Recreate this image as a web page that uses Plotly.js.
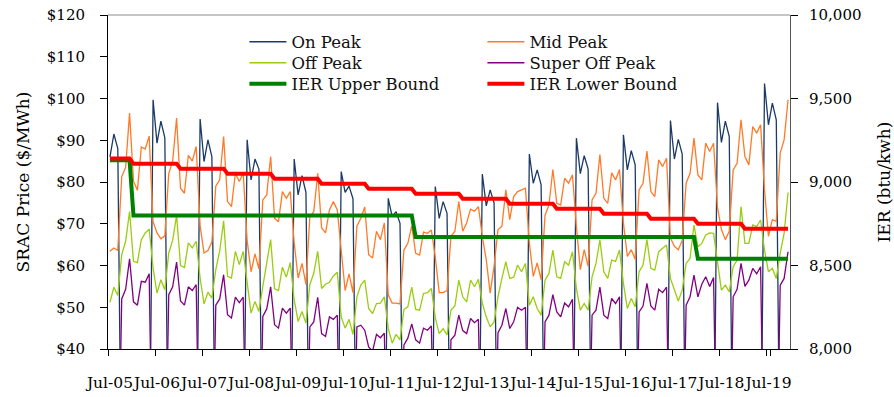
<!DOCTYPE html>
<html><head><meta charset="utf-8">
<script src="https://cdn.plot.ly/plotly-3.0.1.min.js"></script>
<style>html,body{margin:0;padding:0;background:#fff}#chart{width:894px;height:397px}</style>
</head><body><div id="chart"></div>
<script>
// Month categories Jul-05 ... Dec-19
const monthNames = ['Jul','Aug','Sep','Oct','Nov','Dec','Jan','Feb','Mar','Apr','May','Jun'];
const months = [];
for (let i = 0; i < 174; i++) {
  const yr = 5 + Math.floor((i + 6) / 12);
  months.push(monthNames[i % 12] + '-' + String(yr).padStart(2, '0'));
}
const tickLabels = ['Jul-05','Jul-06','Jul-07','Jul-08','Jul-09','Jul-10','Jul-11','Jul-12','Jul-13','Jul-14','Jul-15','Jul-16','Jul-17','Jul-18','Jul-19'];

// rows: Jul..Jun
const onPeak = [
  86,91.5,88,0,0,0,0,0,0,0,0,99.7,
  89.3,94.6,90.6,0,0,0,0,0,0,0,0,95.1,
  84.9,90.1,86.1,0,0,0,0,0,0,0,0,90.1,
  80.5,85.5,83.1,0,0,0,0,0,0,0,0,85.5,
  76.9,81.5,77.5,0,0,0,0,0,0,0,0,82.5,
  77.5,79,76,0,0,0,0,0,0,0,0,76.1,
  71.7,72.9,70.1,0,0,0,0,0,0,0,0,78.9,
  71.3,75.3,72.5,0,0,0,0,0,0,0,0,81.9,
  74.3,78.1,75,0,0,0,0,0,0,0,0,86.7,
  79.7,82.9,79.3,0,0,0,0,0,0,0,0,90.5,
  82,86.3,83.1,0,0,0,0,0,0,0,0,91.3,
  82.9,87.5,84.1,0,0,0,0,0,0,0,0,94.7,
  85.5,90.2,86.7,0,0,0,0,0,0,0,0,99,
  89.5,94.6,90.9,0,0,0,0,0,0,0,0,103.6,
  93.7,98.9,94.9,0,0,0
];
const midPeak = [
  63.4,64.2,63.6,81.3,83.5,96.5,80.2,78,88.4,87.9,91,70.5,
  67.8,66.4,67.1,82,85,95.3,78.5,77.3,86.4,85,88.5,69.5,
  63,63.6,65.6,79,80.5,90.9,75.3,74.1,82.1,80.1,82.1,66,
  58.5,62.8,59.2,75.7,76.9,86.1,71.3,70.5,77.7,76.1,77.7,65.5,
  57,60.5,55.5,71.7,72.9,82.1,69,67.8,73.3,75.3,73.3,63,
  54,58,53.5,69.4,71.3,74,62.6,61.8,68.2,66.2,70.2,53,
  51,51,50.8,63.7,65.3,69.5,62.9,62.5,68,67.7,68.5,62,
  53.5,53.5,54,67,68.2,75.3,68.2,70.2,73.5,73,74.1,67,
  61.4,53.4,59.8,68.6,69.4,78.1,71,76.5,77.7,78.1,78.5,65.4,
  57.4,60.6,56.6,72,74.5,83,74.9,74.5,80.9,79.7,81.7,69.4,
  59,63.8,59.8,75.7,77.3,86.6,76.1,74.9,82.2,80.5,83,70.2,
  62.2,63.8,61.5,78.1,79.7,87.4,77.7,76.5,85.3,83.7,85.7,66.6,
  64.6,63.8,66,79.7,82.1,90.5,81.7,80.5,89.3,87.3,89.3,74,
  68.6,66.2,68.2,82.9,84.5,94.9,86.1,84.1,93.3,91.7,93.7,78.1,
  67,71,70.6,86.9,90.1,99.7
];
const offPeak = [
  51.2,54.8,52.8,62.6,65.8,72.9,61,60.7,66.2,67.8,68.7,59.5,
  53.4,56.6,54.2,63,66,72,60,59.5,65.4,64.2,65.8,57,
  50.8,53.6,52.2,59,63.5,70.7,57.4,57,63.4,60.2,63.4,55.5,
  48.6,51.4,49,55,60.5,66.2,54.4,54,59.6,57.2,60.7,51.8,
  46.6,49,46.2,55.4,58.2,63.4,54.5,55.5,56,57.5,58.4,47.7,
  45,47.1,43.5,52.5,55.3,56.5,49.7,48.5,50.9,51,52.5,45,
  41.4,43.5,42.2,49.5,50.1,54.8,49.5,49.3,53.3,53.5,54.5,47.5,
  43.7,44.9,43.4,49.3,50.3,56.5,52.5,51.3,56.5,54.9,56.7,51,
  47.7,45.3,46.5,52.5,56.9,60.9,56.9,57.2,60.1,58.5,60.5,50.5,
  52.5,49.7,48.1,56.5,58.1,63.7,57.3,56.9,60.9,60.1,63.3,54.5,
  49.3,50.9,49.3,57.3,60.5,66.1,58.5,56.9,61.3,61,63.7,55.7,
  49.7,52.1,50.1,58.5,60.1,66.2,59.3,58.9,63.3,64.1,64.9,56.9,
  54.1,51.5,54.1,60.5,61.7,69.7,64.5,65.3,67.3,67.8,67.7,60.9,
  54.1,55.3,53.7,59.7,61.3,74.1,65.3,65.3,69.7,69.3,70.9,63.7,
  58.5,59.3,56.9,62.9,67.7,77.5
];
const superOffPeak = [
  0,0,0,52,54.3,61.6,51.3,50.5,56.2,56,58,0,
  0,0,0,53,54.9,60.8,51.5,50.5,54.9,54,55.4,0,
  0,0,0,50.5,52,57.8,48.2,47.4,52.4,51.1,52.4,0,
  0,0,0,47.8,49.6,54.9,45.8,45,49.8,48.6,49.8,0,
  0,0,0,45.3,46.5,52.4,43.7,43,47.7,47.1,48.1,0,
  0,0,0,45.3,45.7,44.5,40.5,39.5,43.5,42.7,43.8,0,
  0,0,0,41,42.6,46,42.2,41.4,45,44.5,45.5,0,
  0,0,0,42.2,43.3,48.1,44.4,43.7,47.3,46.3,47.1,0,
  0,0,0,43.9,45.7,49.7,44.9,46.5,50,49.3,50,0,
  0,0,0,46.5,48.1,53,48.9,47.7,51,50.1,51.9,0,
  0,0,0,48.1,49.3,54.8,48.1,47.3,52.1,50.9,52.5,0,
  0,0,0,48.9,50.3,55.7,50.3,49.3,54.3,53.5,54.8,0,
  0,0,0,50.5,52.5,57.7,52.5,55.5,57.3,55,57.1,0,
  0,0,0,52.5,54.3,60.5,55,56.5,59.3,58,59.7,0,
  0,0,0,55.3,56.9,63.3
];
const ierUpper = [
  9130,9130,9130,9130,9130,9130,8800,8800,8800,8800,8800,8800,
  8800,8800,8800,8800,8800,8800,8800,8800,8800,8800,8800,8800,
  8800,8800,8800,8800,8800,8800,8800,8800,8800,8800,8800,8800,
  8800,8800,8800,8800,8800,8800,8800,8800,8800,8800,8800,8800,
  8800,8800,8800,8800,8800,8800,8800,8800,8800,8800,8800,8800,
  8800,8800,8800,8800,8800,8800,8800,8800,8800,8800,8800,8800,
  8800,8800,8800,8800,8800,8800,8670,8670,8670,8670,8670,8670,
  8670,8670,8670,8670,8670,8670,8670,8670,8670,8670,8670,8670,
  8670,8670,8670,8670,8670,8670,8670,8670,8670,8670,8670,8670,
  8670,8670,8670,8670,8670,8670,8670,8670,8670,8670,8670,8670,
  8670,8670,8670,8670,8670,8670,8670,8670,8670,8670,8670,8670,
  8670,8670,8670,8670,8670,8670,8670,8670,8670,8670,8670,8670,
  8670,8670,8670,8670,8670,8670,8540,8540,8540,8540,8540,8540,
  8540,8540,8540,8540,8540,8540,8540,8540,8540,8540,8540,8540,
  8540,8540,8540,8540,8540,8540
];
const ierLower = [
  9140,9140,9140,9140,9140,9140,9110,9110,9110,9110,9110,9110,
  9110,9110,9110,9110,9110,9110,9080,9080,9080,9080,9080,9080,
  9080,9080,9080,9080,9080,9080,9050,9050,9050,9050,9050,9050,
  9050,9050,9050,9050,9050,9050,9020,9020,9020,9020,9020,9020,
  9020,9020,9020,9020,9020,9020,8990,8990,8990,8990,8990,8990,
  8990,8990,8990,8990,8990,8990,8960,8960,8960,8960,8960,8960,
  8960,8960,8960,8960,8960,8960,8930,8930,8930,8930,8930,8930,
  8930,8930,8930,8930,8930,8930,8900,8900,8900,8900,8900,8900,
  8900,8900,8900,8900,8900,8900,8870,8870,8870,8870,8870,8870,
  8870,8870,8870,8870,8870,8870,8840,8840,8840,8840,8840,8840,
  8840,8840,8840,8840,8840,8840,8810,8810,8810,8810,8810,8810,
  8810,8810,8810,8810,8810,8810,8780,8780,8780,8780,8780,8780,
  8780,8780,8780,8780,8780,8780,8750,8750,8750,8750,8750,8750,
  8750,8750,8750,8750,8750,8750,8720,8720,8720,8720,8720,8720,
  8720,8720,8720,8720,8720,8720
];

const thin = 1.3, thick = 4;
const traces = [
  {name:'On Peak', y:onPeak, color:'#1B3A66', w:thin, axis:'y', lg:'legend'},
  {name:'Mid Peak', y:midPeak, color:'#FF7A26', w:thin, axis:'y', lg:'legend'},
  {name:'Off Peak', y:offPeak, color:'#9ACD10', w:thin, axis:'y', lg:'legend2'},
  {name:'Super Off Peak', y:superOffPeak, color:'#800080', w:thin, axis:'y', lg:'legend2'},
  {name:'IER Upper Bound', y:ierUpper, color:'#008000', w:thick, axis:'y2', lg:'legend3'},
  {name:'IER Lower Bound', y:ierLower, color:'#FF0000', w:thick, axis:'y2', lg:'legend3'}
].map(t => ({
  type:'scatter', mode:'lines', name:t.name, x:months, y:t.y, yaxis:t.axis, legend:t.lg,
  line:{color:t.color, width:t.w}, hoverinfo:'skip'
}));

// legend rows (pixel centers 42, 63, 84 inside a 334px tall plot starting at 15)
function legendRow(yPx) {
  return {orientation:'h', x:0.2, xanchor:'left', y:1 - (yPx - 15) / 334, yanchor:'middle',
    traceorder:'normal', entrywidth:186, entrywidthmode:'pixels', itemwidth:37,
    font:{size:16.5, family:'DejaVu Serif', color:'#111'}, bgcolor:'rgba(0,0,0,0)', borderwidth:0};
}

// inner halves of the crossing tick marks (decoration only, at the year boundaries)
const yearBoundaries = [];
for (let j = 0; j <= 14; j++) yearBoundaries.push(-0.5 + 12 * j);

const layout = {
  width:894, height:397,
  margin:{l:108, r:104, t:15, b:48},
  paper_bgcolor:'#ffffff', plot_bgcolor:'#ffffff',
  font:{family:'DejaVu Serif', size:15, color:'#000'},
  showlegend:true,
  legend:legendRow(42),
  legend2:legendRow(63),
  legend3:legendRow(84),
  xaxis:{type:'category', range:[-0.5,173.5], tickmode:'array', tickvals:tickLabels.slice(), ticktext:tickLabels,
    tickson:'boundaries', ticks:'outside', ticklen:6, tickcolor:'#000', tickangle:0,
    showline:true, linecolor:'#000', linewidth:1, showgrid:false, zeroline:false,
    tickfont:{size:15.5}, ticklabelstandoff:19, fixedrange:true},
  xaxis2:{type:'linear', overlaying:'x', anchor:'y', side:'bottom', range:[-0.5,173.5],
    tickmode:'array', tickvals:yearBoundaries, ticks:'inside', ticklen:5, tickcolor:'#000',
    showticklabels:false, showline:false, showgrid:false, zeroline:false},
  yaxis:{range:[40,120], tickmode:'linear', tick0:40, dtick:10, tickprefix:'$',
    ticks:'outside', ticklen:7, tickcolor:'#000', showline:true, linecolor:'#000', linewidth:1,
    showgrid:false, zeroline:false, tickfont:{size:15}, ticklabelstandoff:12,
    title:{text:'SRAC Price ($/MWh)', font:{size:17}, standoff:12}},
  yaxis2:{overlaying:'y', side:'right', range:[8000,10000], tickmode:'linear', tick0:8000, dtick:500,
    tickformat:',', ticks:'outside', ticklen:7, tickcolor:'#000', showline:true, linecolor:'#555', linewidth:1,
    showgrid:false, zeroline:false, tickfont:{size:15}, ticklabelstandoff:8,
    title:{text:'IER (btu/kwh)', font:{size:17}, standoff:20}},
  yaxis3:{overlaying:'y', anchor:'x', side:'right', range:[8000,10000], tickmode:'linear', tick0:8000, dtick:500,
    ticks:'inside', ticklen:5, tickcolor:'#000', showticklabels:false, showline:false,
    showgrid:false, zeroline:false},
  shapes:[{type:'line', xref:'paper', yref:'paper', x0:0, x1:1, y0:1, y1:1, line:{color:'#8c8c8c', width:1}}]
};

Plotly.newPlot('chart', traces, layout, {staticPlot:true, displayModeBar:false});
</script>
</body></html>
